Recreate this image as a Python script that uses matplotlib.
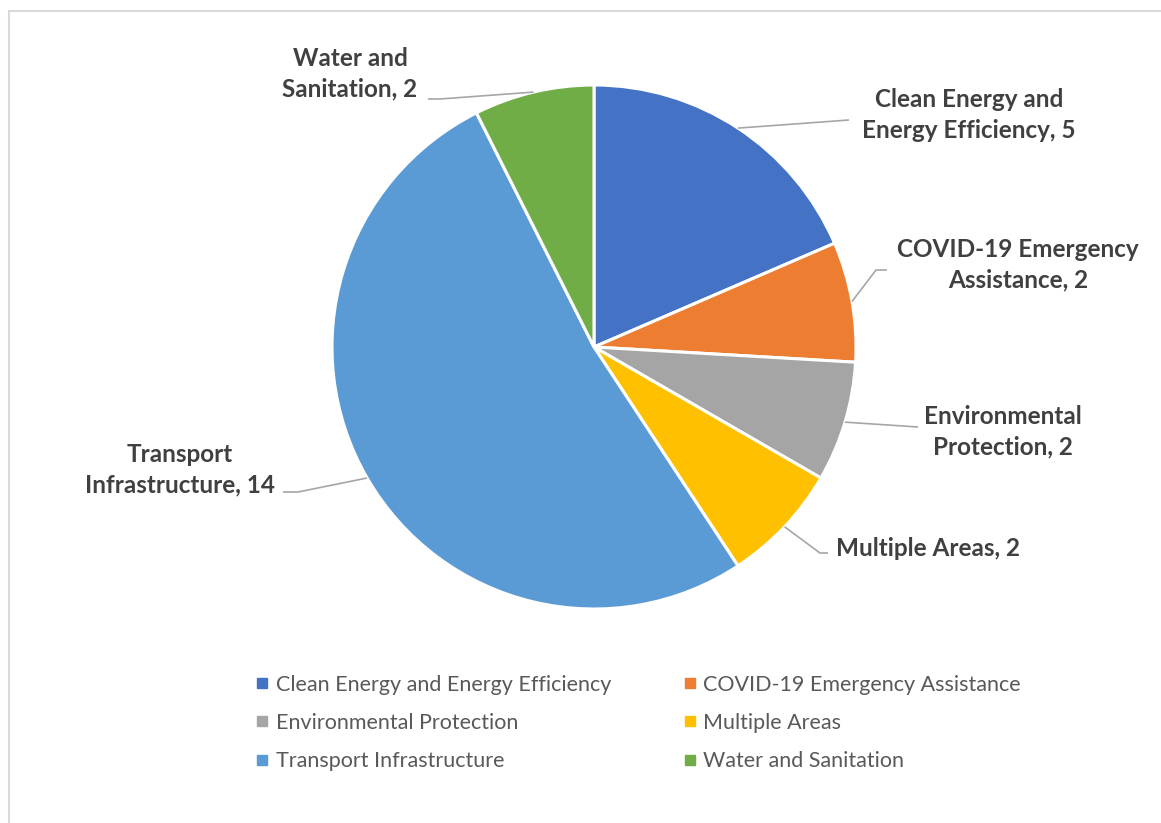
import numpy as np
import matplotlib.pyplot as plt
from matplotlib.lines import Line2D
from matplotlib.patches import Rectangle

# data
categories = ["Clean Energy and Energy Efficiency", "COVID-19 Emergency Assistance",
              "Environmental Protection", "Multiple Areas",
              "Transport Infrastructure", "Water and Sanitation"]
values = [5, 2, 2, 2, 14, 2]
label_texts = ["Clean Energy and\nEnergy Efficiency, 5", "COVID-19 Emergency\nAssistance, 2",
               "Environmental\nProtection, 2", "Multiple Areas, 2",
               "Transport\nInfrastructure, 14", "Water and\nSanitation, 2"]
colors = ["#4472C4", "#ED7D31", "#A5A5A5", "#FFC000", "#5B9BD5", "#70AD47"]

W, H = 1161, 823
plt.rcParams['font.family'] = ['Lato', 'DejaVu Sans']

fig = plt.figure(figsize=(W / 100, H / 100), dpi=100)
ax = fig.add_axes([0, 0, 1, 1])

# pie centre and radius in pixels (y measured from top)
cx, cy, r = 594, 347, 262
wedges, _ = ax.pie(values, colors=colors, startangle=90, counterclock=False,
                   center=(cx, H - cy), radius=r,
                   wedgeprops=dict(edgecolor='white', linewidth=2.2))
ax.set_xlim(0, W)
ax.set_ylim(0, H)
ax.set_aspect('equal')
ax.axis('off')

# label positions (text centre, top-based y), elbow points, alignment
label_pos = [(969, 115, 'center'), (1018, 265, 'center'), (1003, 432, 'center'),
             (836, 548, 'left'), (180, 470, 'center'), (350, 74, 'center')]
elbows = [[(849, 120)],
          [(876, 270), (887, 270)],
          [(918, 427)],
          [(820, 553), (828, 553)],
          [(298, 492), (283, 492)],
          [(440, 99), (428, 99)]]

for w, txt, (tx, ty, ha), pts in zip(wedges, label_texts, label_pos, elbows):
    ang = np.deg2rad((w.theta1 + w.theta2) / 2)
    ex = cx + r * np.cos(ang)
    ey = H - cy + r * np.sin(ang)
    xs = [ex] + [p[0] for p in pts]
    ys = [ey] + [H - p[1] for p in pts]
    ax.plot(xs, ys, color='#a6a6a6', lw=1.2, solid_capstyle='butt')
    ax.text(tx, H - ty, txt, ha=ha, va='center', fontsize=17.5, fontweight='bold',
            color='#404040', linespacing=1.4)

# legend: column-major order so rows read left to right
order = [0, 2, 4, 1, 3, 5]
handles = [Line2D([], [], marker='s', linestyle='none', markersize=7,
                  markerfacecolor=colors[i], markeredgecolor=colors[i]) for i in order]
fig.legend(handles, [categories[i] for i in order], ncol=2, frameon=False,
           loc='center left', bbox_to_anchor=(256 / W, 1 - 723 / H),
           fontsize=15.5, labelcolor='#595959', handlelength=0.6, handletextpad=0.31,
           columnspacing=3.35, labelspacing=0.84, borderpad=0, borderaxespad=0)

# outer chart frame
fig.patches.append(Rectangle((9 / W, -0.1), 2, 1 - 11 / H + 0.1, transform=fig.transFigure,
                             fill=False, edgecolor='#d9d9d9', lw=1.5))

fig.savefig('out.png', dpi=100)
